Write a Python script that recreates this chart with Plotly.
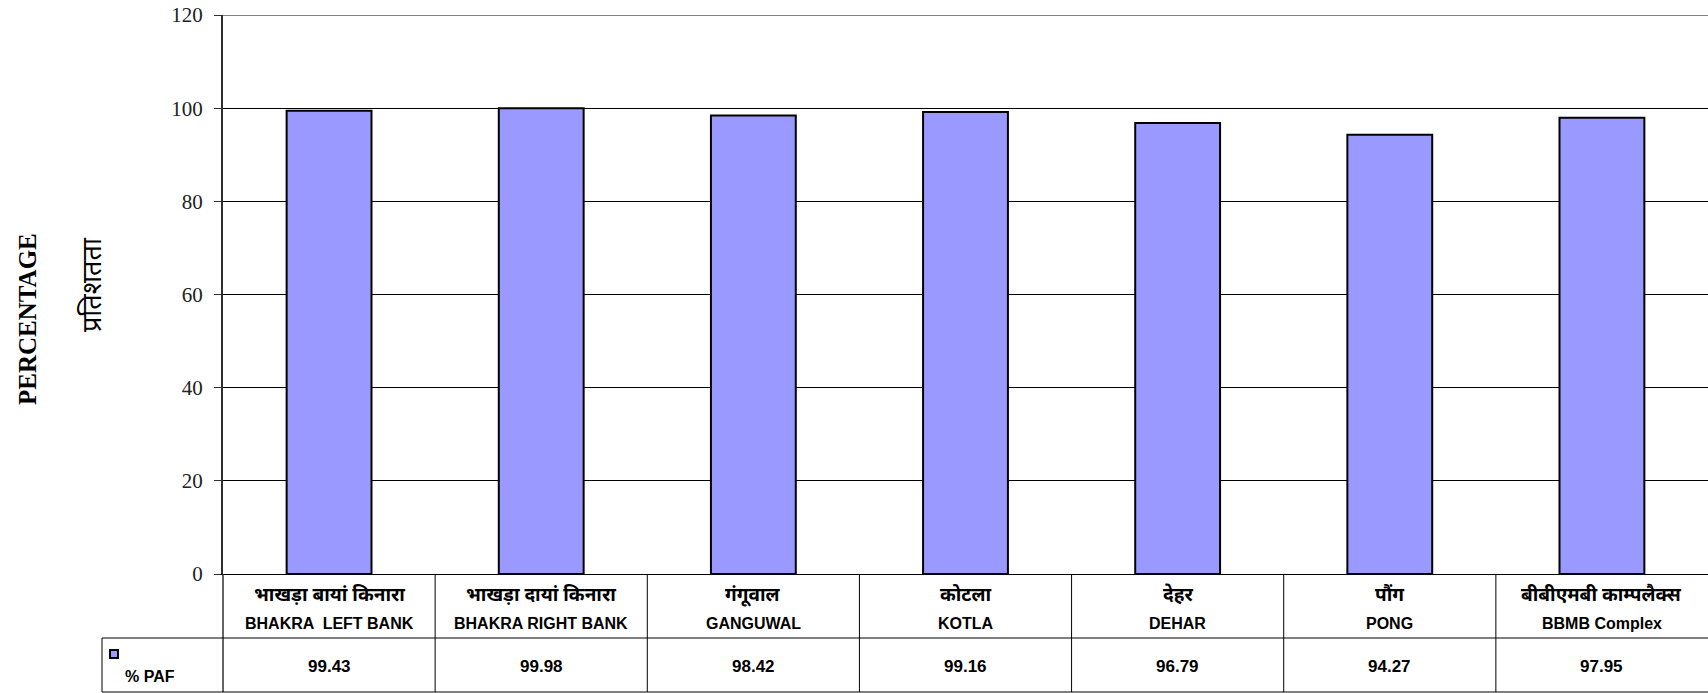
import plotly.graph_objects as go

# Plant-wise Plant Availability Factor (%)
stations_hi = ["भाखड़ा बायां किनारा", "भाखड़ा दायां किनारा", "गंगूवाल", "कोटला",
               "देहर", "पौंग", "बीबीएमबी काम्पलैक्स"]
stations_en = ["BHAKRA  LEFT BANK", "BHAKRA RIGHT BANK", "GANGUWAL", "KOTLA",
               "DEHAR", "PONG", "BBMB Complex"]
paf_values = [99.43, 99.98, 98.42, 99.16, 96.79, 94.27, 97.95]
series_name = "% PAF"
y_ticks = [0, 20, 40, 60, 80, 100, 120]

W, H = 1708, 693
ML, MR, MT, MB = 223, 0, 15, 119
PW, PH = W - ML - MR, H - MT - MB

BAR_COLOR = "#9999FF"
SERIF = "Liberation Serif, Times New Roman, serif"
SANS = "Liberation Sans, Arial, sans-serif"
DEVA = "Noto Sans Devanagari, Noto Sans, Lohit Devanagari, sans-serif"


def py(p):
    """pixel row -> paper y"""
    return (H - MB - p) / PH


def px(p):
    """pixel column -> paper x"""
    return (p - ML) / PW


cats = list(range(len(paf_values)))

fig = go.Figure()
fig.add_trace(go.Bar(
    x=cats, y=paf_values, width=0.4,
    marker=dict(color=BAR_COLOR, line=dict(color="black", width=2)),
    name=series_name, showlegend=False, hoverinfo="y",
))

shapes = []
annotations = []

# top border of the plotting area
shapes.append(dict(type="line", xref="paper", yref="y", x0=0, x1=1, y0=120, y1=120,
                   line=dict(color="#808080", width=2), layer="above"))

# data table underneath the chart
n = len(cats)
line_k = dict(color="black", width=1)
for i in range(1, n):
    xb = i - 0.5
    shapes.append(dict(type="line", xref="x", yref="paper", x0=xb, x1=xb,
                       y0=0, y1=py(692), line=line_k))
shapes.append(dict(type="line", xref="paper", yref="paper", x0=0, x1=0,
                   y0=0, y1=py(692), line=dict(color="#303030", width=1.5)))
shapes.append(dict(type="line", xref="paper", yref="paper", x0=px(102), x1=px(102),
                   y0=py(638), y1=py(692), line=line_k))
shapes.append(dict(type="line", xref="paper", yref="paper", x0=px(102), x1=1,
                   y0=py(638), y1=py(638), line=line_k))
shapes.append(dict(type="line", xref="paper", yref="paper", x0=px(102), x1=1,
                   y0=py(692), y1=py(692), line=line_k))

cell = dict(xref="x", yref="paper", showarrow=False, xanchor="center", yanchor="middle")
for i, (hi, en, v) in enumerate(zip(stations_hi, stations_en, paf_values)):
    annotations.append(dict(cell, x=i, y=py(596), text=f"<b>{hi}</b>",
                            font=dict(family=DEVA, size=19, color="black")))
    annotations.append(dict(cell, x=i, y=py(623), text=f"<b>{en}</b>",
                            font=dict(family=SANS, size=16, color="black")))
    annotations.append(dict(cell, x=i, y=py(666), text=f"<b>{v:.2f}</b>",
                            font=dict(family=SANS, size=17, color="black")))

# legend key inside the table
shapes.append(dict(type="rect", xref="paper", yref="paper", x0=px(110), x1=px(118),
                   y0=py(658), y1=py(650), fillcolor=BAR_COLOR,
                   line=dict(color="black", width=2)))
annotations.append(dict(x=px(123), y=py(676), xref="paper", yref="paper",
                        text=f"<b>{series_name}</b>", xanchor="left", yanchor="middle",
                        showarrow=False, font=dict(family=SANS, size=16, color="black")))

# axis titles
annotations.append(dict(x=px(27), y=py(319), xref="paper", yref="paper",
                        xanchor="center", yanchor="middle",
                        text="<b>PERCENTAGE</b>", textangle=-90, showarrow=False,
                        font=dict(family=SERIF, size=25, color="black")))
annotations.append(dict(x=px(94), y=py(285), xref="paper", yref="paper",
                        xanchor="center", yanchor="middle",
                        text="प्रतिशतता", textangle=-90, showarrow=False,
                        font=dict(family=DEVA, size=27, color="black")))

fig.update_layout(
    width=W, height=H,
    margin=dict(l=ML, r=MR, t=MT, b=MB, pad=0),
    paper_bgcolor="white", plot_bgcolor="white",
    shapes=shapes, annotations=annotations,
    bargap=0.6,
)
fig.update_xaxes(range=[-0.5, n - 0.5], showticklabels=False, ticks="",
                 showgrid=False, zeroline=False, showline=True,
                 linecolor="black", linewidth=1)
fig.update_yaxes(range=[0, 120], tickvals=y_ticks, showgrid=True,
                 gridcolor="black", gridwidth=1, zeroline=False,
                 showline=True, linecolor="#303030", linewidth=2,
                 ticks="outside", ticklen=7, tickcolor="#303030", tickwidth=1,
                 tickfont=dict(family=SERIF, size=21, color="#222222"),
                 ticklabelstandoff=7)

fig.write_html("out.html")
